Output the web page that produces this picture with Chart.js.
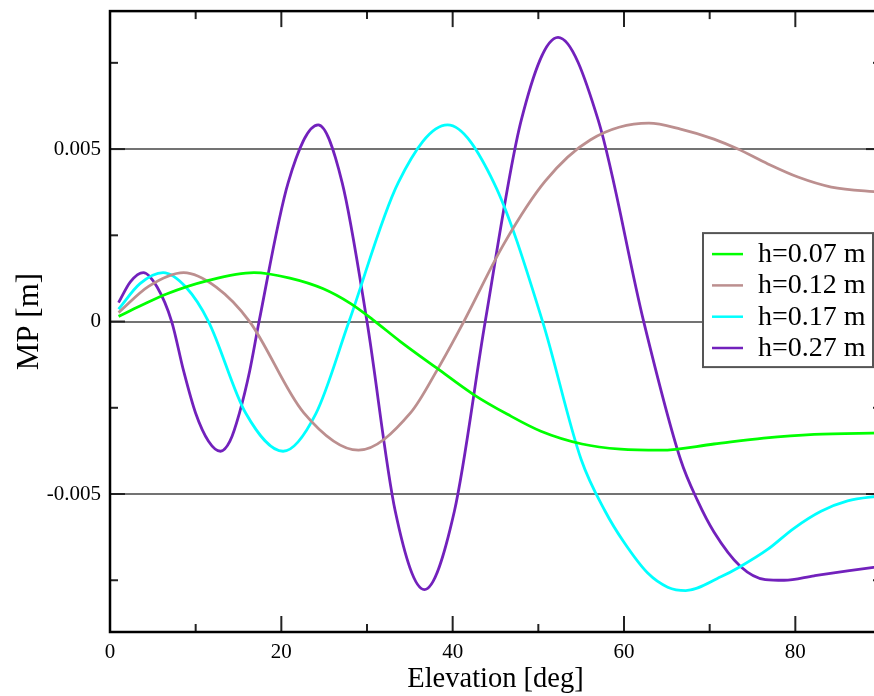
<!DOCTYPE html>
<html>
<head>
<meta charset="utf-8">
<script src="https://cdn.jsdelivr.net/npm/chart.js@4"></script>
<style>
  html, body { margin: 0; padding: 0; background: #fff; overflow: hidden; }
  #wrap { width: 890px; height: 696px; }
</style>
</head>
<body>
<div id="wrap"><canvas id="mpChart" width="890" height="696"></canvas></div>
<script>
// Series labels and colours
const seriesLabels = ['h=0.07 m', 'h=0.12 m', 'h=0.17 m', 'h=0.27 m'];
const seriesColors = ['#00ff00', 'rgb(188,143,143)', '#00ffff', 'rgb(114,33,188)'];

// Values (elevation in deg, MP in m)
const green_elev = [1, 3.5, 6.6, 11.3, 16.8, 21, 24.9, 28.1, 30.7, 33.9, 38.2, 42.4, 46.4, 50.3, 55.1, 59.6, 64.3, 70.5, 76.3, 82.2, 90];
const green_mp = [0.00015, 0.00045, 0.0008, 0.00118, 0.00142, 0.00126, 0.00095, 0.00052, 0.00005, -0.00058, -0.00136, -0.00211, -0.00269, -0.00318, -0.00355, -0.0037, -0.00373, -0.00355, -0.00338, -0.00327, -0.00323];

const brown_elev = [1, 4.5, 8.6, 12.4, 16.3, 22.6, 29, 35.1, 38.2, 41.3, 46, 50.8, 56.1, 62.9, 66.6, 70.5, 73.3, 76.8, 80.3, 84.2, 90];
const brown_mp = [0.00026, 0.00102, 0.00142, 0.001, 0, -0.00264, -0.00373, -0.00264, -0.0014, 0, 0.00226, 0.00407, 0.00527, 0.00575, 0.00558, 0.00529, 0.005, 0.00457, 0.00419, 0.0039, 0.00375];

const cyan_elev = [1, 3.5, 6.2, 8.85, 11.5, 15.85, 20.2, 24.05, 27.9, 33.65, 39.4, 44.8, 50.5, 55, 57.8, 60, 62.8, 65.1, 67.2, 71.3, 73.6, 76.8, 79.8, 83, 86.1, 90];
const cyan_mp = [0.00036, 0.0011, 0.00142, 0.001, 0, -0.00266, -0.00376, -0.00266, 0, 0.00403, 0.0057, 0.00403, 0, -0.004, -0.0055, -0.0064, -0.0073, -0.0077, -0.0078, -0.0074, -0.0071, -0.0066, -0.006, -0.0055, -0.0052, -0.00505];

const purple_elev = [1, 2.4, 3.9, 5.5, 7.2, 8.6, 10, 11.5, 12.9, 14, 15.1, 16.3, 17.4, 20.8, 24.3, 27.1, 30, 33.3, 36.7, 40.2, 43.8, 48, 52.3, 57, 62.3, 66.6, 68.6, 70.5, 73.6, 76.5, 78.7, 82.2, 86.1, 90];
const purple_mp = [0.00055, 0.00116, 0.00142, 0.001, 0, -0.00144, -0.00266, -0.00347, -0.00376, -0.00347, -0.00266, -0.00144, 0, 0.00403, 0.0057, 0.00403, 0, -0.0055, -0.00777, -0.0055, 0, 0.00583, 0.00824, 0.00583, 0, -0.004, -0.0052, -0.0061, -0.0071, -0.00748, -0.0075, -0.00737, -0.00723, -0.0071];

// Ticks
const xMajor = [0, 20, 40, 60, 80];
const xTickLabels = ['0', '20', '40', '60', '80'];
const xTicksAll = [0, 10, 20, 30, 40, 50, 60, 70, 80, 90];
const yMajor = [-0.005, 0, 0.005];
const yTickLabels = ['-0.005', '0', '0.005'];
const yTicksAll = [-0.0075, -0.005, -0.0025, 0, 0.0025, 0.005, 0.0075];

const serif = "'Liberation Serif', 'Times New Roman', serif";
Chart.defaults.font.family = serif;
Chart.defaults.color = '#000';

const toPoints = (xs, ys) => xs.map((x, i) => ({ x: x, y: ys[i] }));
const allSeries = [
    toPoints(green_elev, green_mp),
    toPoints(brown_elev, brown_mp),
    toPoints(cyan_elev, cyan_mp),
    toPoints(purple_elev, purple_mp)
];

// inward tick marks on all four sides plus the black frame
const frameTicks = {
    id: 'frameTicks',
    afterDatasetsDraw(chart) {
        const { ctx, chartArea: a, scales: { x, y } } = chart;
        const seg = (x1, y1, x2, y2) => { ctx.beginPath(); ctx.moveTo(x1, y1); ctx.lineTo(x2, y2); ctx.stroke(); };
        ctx.save();
        ctx.strokeStyle = '#222';
        ctx.lineWidth = 2;
        xTicksAll.forEach(v => {
            const px = x.getPixelForValue(v);
            const len = xMajor.includes(v) ? 16 : 8;
            seg(px, a.bottom, px, a.bottom - len);
            seg(px, a.top, px, a.top + len);
        });
        yTicksAll.forEach(v => {
            const py = y.getPixelForValue(v);
            const len = yMajor.includes(v) ? 15 : 8;
            seg(a.left, py, a.left + len, py);
            seg(a.right, py, a.right - len, py);
        });
        ctx.strokeStyle = '#000';
        ctx.lineWidth = 2.5;
        ctx.strokeRect(a.left, a.top, a.right - a.left, a.bottom - a.top);
        ctx.restore();
    }
};

// boxed legend inside the plot, right side
const legendBox = {
    id: 'legendBox',
    afterDraw(chart) {
        const { ctx, chartArea: a } = chart;
        const bx = a.right - 178, by = a.top + 222, bw = 170, bh = 134;
        ctx.save();
        ctx.fillStyle = '#fff';
        ctx.fillRect(bx, by, bw, bh);
        ctx.strokeStyle = '#555';
        ctx.lineWidth = 2;
        ctx.strokeRect(bx, by, bw, bh);
        ctx.font = '28px ' + serif;
        ctx.textBaseline = 'middle';
        ctx.fillStyle = '#000';
        chart.data.datasets.forEach((ds, i) => {
            const ry = by + 21 + i * 31.3;
            ctx.strokeStyle = ds.borderColor;
            ctx.lineWidth = 2.5;
            ctx.beginPath();
            ctx.moveTo(bx + 9, ry);
            ctx.lineTo(bx + 40, ry);
            ctx.stroke();
            ctx.fillText(ds.label, bx + 55, ry + 0.5);
        });
        ctx.restore();
    }
};

const chart = new Chart(document.getElementById('mpChart'), {
    type: 'line',
    data: {
        datasets: allSeries.map((pts, i) => ({
            label: seriesLabels[i],
            data: pts,
            borderColor: seriesColors[i],
            borderWidth: 2.8,
            pointRadius: 0,
            fill: false,
            cubicInterpolationMode: 'monotone'
        }))
    },
    options: {
        responsive: false,
        devicePixelRatio: 1,
        animation: false,
        layout: { padding: { top: 9, right: 9, left: 0, bottom: 0 } },
        plugins: { legend: { display: false }, tooltip: { enabled: false } },
        scales: {
            x: {
                type: 'linear',
                min: 0,
                max: 90,
                afterBuildTicks: s => { s.ticks = xTicksAll.map(v => ({ value: v })); },
                afterFit: s => { s.height = 64; },
                grid: { display: false, drawTicks: false },
                border: { display: false },
                ticks: {
                    autoSkip: false,
                    maxRotation: 0,
                    padding: 8,
                    font: { size: 21 },
                    callback: v => { const i = xMajor.indexOf(v); return i >= 0 ? xTickLabels[i] : ''; }
                },
                title: { display: true, text: 'Elevation [deg]', font: { size: 28.5 }, padding: { top: 0, bottom: -1 } }
            },
            y: {
                type: 'linear',
                min: -0.009,
                max: 0.009,
                afterBuildTicks: s => { s.ticks = yTicksAll.map(v => ({ value: v })); },
                afterFit: s => { s.width = 110; },
                grid: {
                    drawTicks: false,
                    lineWidth: 2,
                    color: c => (c.tick && yMajor.includes(c.tick.value)) ? 'rgb(115,115,115)' : 'rgba(0,0,0,0)'
                },
                border: { display: false },
                ticks: {
                    padding: 9,
                    font: { size: 21, lineHeight: 0.2 },
                    callback: v => { const i = yMajor.indexOf(v); return i >= 0 ? yTickLabels[i] : ''; }
                },
                title: { display: true, text: 'MP [m]', font: { size: 31 }, padding: { top: 11 } }
            }
        }
    },
    plugins: [frameTicks, legendBox]
});
</script>
</body>
</html>
